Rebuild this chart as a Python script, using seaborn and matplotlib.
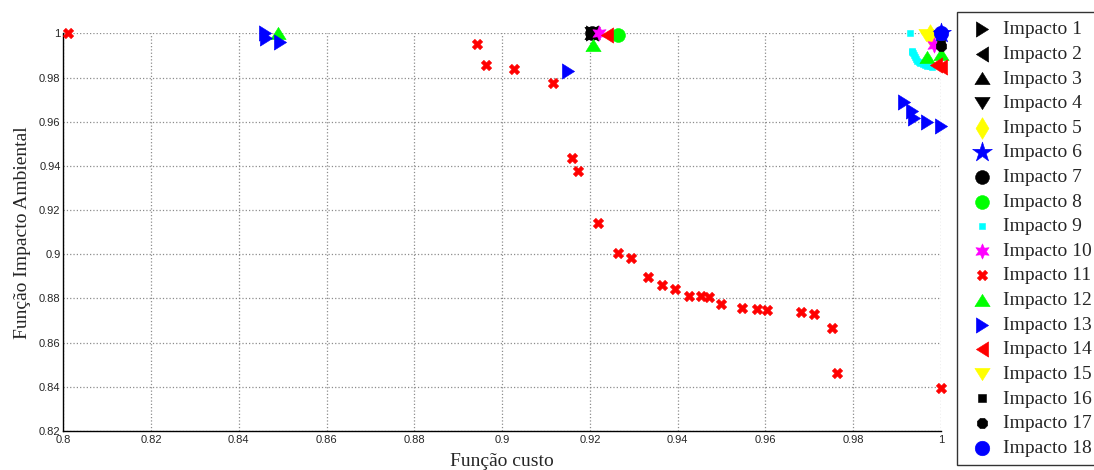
import numpy as np
import pandas as pd
import matplotlib
matplotlib.use("Agg")
import matplotlib.pyplot as plt
import seaborn as sns

# ---- data ----
x_ticks = [0.8, 0.82, 0.84, 0.86, 0.88, 0.9, 0.92, 0.94, 0.96, 0.98, 1.0]
y_ticks = [0.82, 0.84, 0.86, 0.88, 0.9, 0.92, 0.94, 0.96, 0.98, 1.0]
x_tick_labels = ["0.8", "0.82", "0.84", "0.86", "0.88", "0.9", "0.92", "0.94", "0.96", "0.98", "1"]
y_tick_labels = ["0.82", "0.84", "0.86", "0.88", "0.9", "0.92", "0.94", "0.96", "0.98", "1"]

imp1_x, imp1_y = [0.9205], [1.0]
imp2_x, imp2_y = [0.9205], [1.0]
imp3_x, imp3_y = [0.9205], [1.0]
imp4_x, imp4_y = [0.9205], [1.0]
imp5_x, imp5_y = [0.9975], [0.9993]
imp6_x, imp6_y = [1.0], [1.0]
imp7_x, imp7_y = [0.9205], [1.0]
imp8_x, imp8_y = [0.9265], [0.9993]
imp9_x = [0.9929, 0.9934, 0.9935, 0.9937, 0.9938, 0.9940, 0.9942, 0.9945, 0.9949,
          0.9953, 0.9958, 0.9963, 0.9969, 0.9974, 0.9979]
imp9_y = [1.0, 0.9921, 0.9917, 0.9910, 0.9902, 0.9893, 0.9884, 0.9876, 0.9870,
          0.9865, 0.9861, 0.9856, 0.9852, 0.9851, 0.9850]
imp10_x, imp10_y = [0.922, 0.9985], [1.0, 0.9947]
imp11_x = [0.801, 0.8943, 0.8964, 0.9026, 0.9117, 0.916, 0.9172, 0.9218, 0.9263, 0.9293,
           0.9332, 0.9365, 0.9393, 0.9426, 0.9452, 0.9472, 0.9499, 0.9546, 0.9581, 0.9604,
           0.9681, 0.971, 0.9751, 0.9763, 1.0]
imp11_y = [1.0, 0.9951, 0.9857, 0.9839, 0.9774, 0.9438, 0.9376, 0.9143, 0.9007, 0.8983,
           0.8897, 0.8862, 0.8845, 0.8812, 0.8813, 0.8805, 0.8776, 0.8759, 0.8753, 0.8746,
           0.8737, 0.8731, 0.8665, 0.8463, 0.8395]
imp12_x, imp12_y = [0.849, 0.9208, 0.9969, 1.0], [1.0, 0.9947, 0.9893, 0.9907]
imp13_x = [0.846, 0.8462, 0.8494, 0.9151, 0.9915, 0.9935, 0.9938, 0.9969, 1.0]
imp13_y = [1.0, 0.998, 0.9962, 0.9832, 0.9688, 0.9648, 0.9615, 0.9597, 0.9581]
imp14_x, imp14_y = [0.9239, 0.9988, 1.0], [0.9993, 0.9857, 0.9848]
imp15_x, imp15_y = [0.9965], [0.9995]
imp16_x, imp16_y = [1.0], [0.9952]
imp17_x, imp17_y = [1.0], [0.9945]
imp18_x, imp18_y = [1.0], [1.0]

labels = [f"Impacto {i}" for i in range(1, 19)]
xs = [imp1_x, imp2_x, imp3_x, imp4_x, imp5_x, imp6_x, imp7_x, imp8_x, imp9_x,
      imp10_x, imp11_x, imp12_x, imp13_x, imp14_x, imp15_x, imp16_x, imp17_x, imp18_x]
ys = [imp1_y, imp2_y, imp3_y, imp4_y, imp5_y, imp6_y, imp7_y, imp8_y, imp9_y,
      imp10_y, imp11_y, imp12_y, imp13_y, imp14_y, imp15_y, imp16_y, imp17_y, imp18_y]

# ---- styles ----
h = 0.8  # MATLAB-like triangles: base wider than height
tri_r = [(-h, -1), (-h, 1), (h, 0), (-h, -1)]
tri_l = [(h, -1), (h, 1), (-h, 0), (h, -1)]
tri_u = [(-1, -h), (1, -h), (0, h), (-1, -h)]
tri_d = [(-1, h), (1, h), (0, -h), (-1, h)]

colors = ["black", "black", "black", "black", "#ffff00", "#0000ff", "black", "#00ff00", "#00ffff",
          "#ff00ff", "#ff0000", "#00ff00", "#0000ff", "#ff0000", "#ffff00", "black", "black", "#0000ff"]
markers = [tri_r, tri_l, tri_u, tri_d, "d", "*", "o", "o", "s",
           (6, 1, 0), "X", tri_u, tri_r, tri_l, tri_d, "s", "8", "o"]
msizes = [11, 11, 11, 11, 11, 15, 10, 10, 4.5,
          11, 7.5, 11, 11, 11, 11, 6, 8, 10.5]

sns.set_style("white")
plt.rcParams["font.family"] = ["Liberation Serif", "DejaVu Serif"]

fig = plt.figure(figsize=(10.94, 4.70), dpi=100)
ax = fig.add_axes([63.3 / 1094, 39 / 470, 877.7 / 1094, 397.6 / 470])

for lab, x, y, c, m, s in zip(labels, xs, ys, colors, markers, msizes):
    df = pd.DataFrame({"x": x, "y": y})
    sns.scatterplot(data=df, x="x", y="y", ax=ax, color=c, marker=m, s=s ** 2,
                    edgecolor=c, linewidth=0.4, label=lab, clip_on=False, zorder=3)

ax.set_xlim(0.8, 1.0)
ax.set_ylim(0.82, 1.0)
ax.set_xticks(x_ticks)
ax.set_xticklabels(x_tick_labels)
ax.set_yticks(y_ticks)
ax.set_yticklabels(y_tick_labels)
for t in ax.get_xticklabels() + ax.get_yticklabels():
    t.set_family(["Liberation Sans", "DejaVu Sans"])
    t.set_fontsize(8)
ax.tick_params(axis="both", direction="in", length=6, width=0.8, color="black", pad=2)
ax.tick_params(axis="x", pad=3)

ax.grid(True, color="#808080", linestyle=":", linewidth=0.9, alpha=0.9)
for side in ["top", "right"]:
    ax.spines[side].set_visible(False)
for side in ["left", "bottom"]:
    ax.spines[side].set_color("black")
    ax.spines[side].set_linewidth(1.0)

ax.set_xlabel("Função custo", fontsize=14, labelpad=6)
ax.set_ylabel("Função Impacto Ambiental", fontsize=14, labelpad=6)

ax.get_legend().remove()
handles, labs = ax.get_legend_handles_labels()
leg = fig.legend(handles, labs, loc="upper left", bbox_to_anchor=(957 / 1094, 1 - 12 / 470),
                 frameon=True, fancybox=False, fontsize=14, borderpad=0.45,
                 labelspacing=0.36, handlelength=1.7, handletextpad=0.2,
                 borderaxespad=0, markerscale=1.0)
leg.get_frame().set_edgecolor("black")
leg.get_frame().set_linewidth(1.0)

fig.savefig("out.png", dpi=100)
